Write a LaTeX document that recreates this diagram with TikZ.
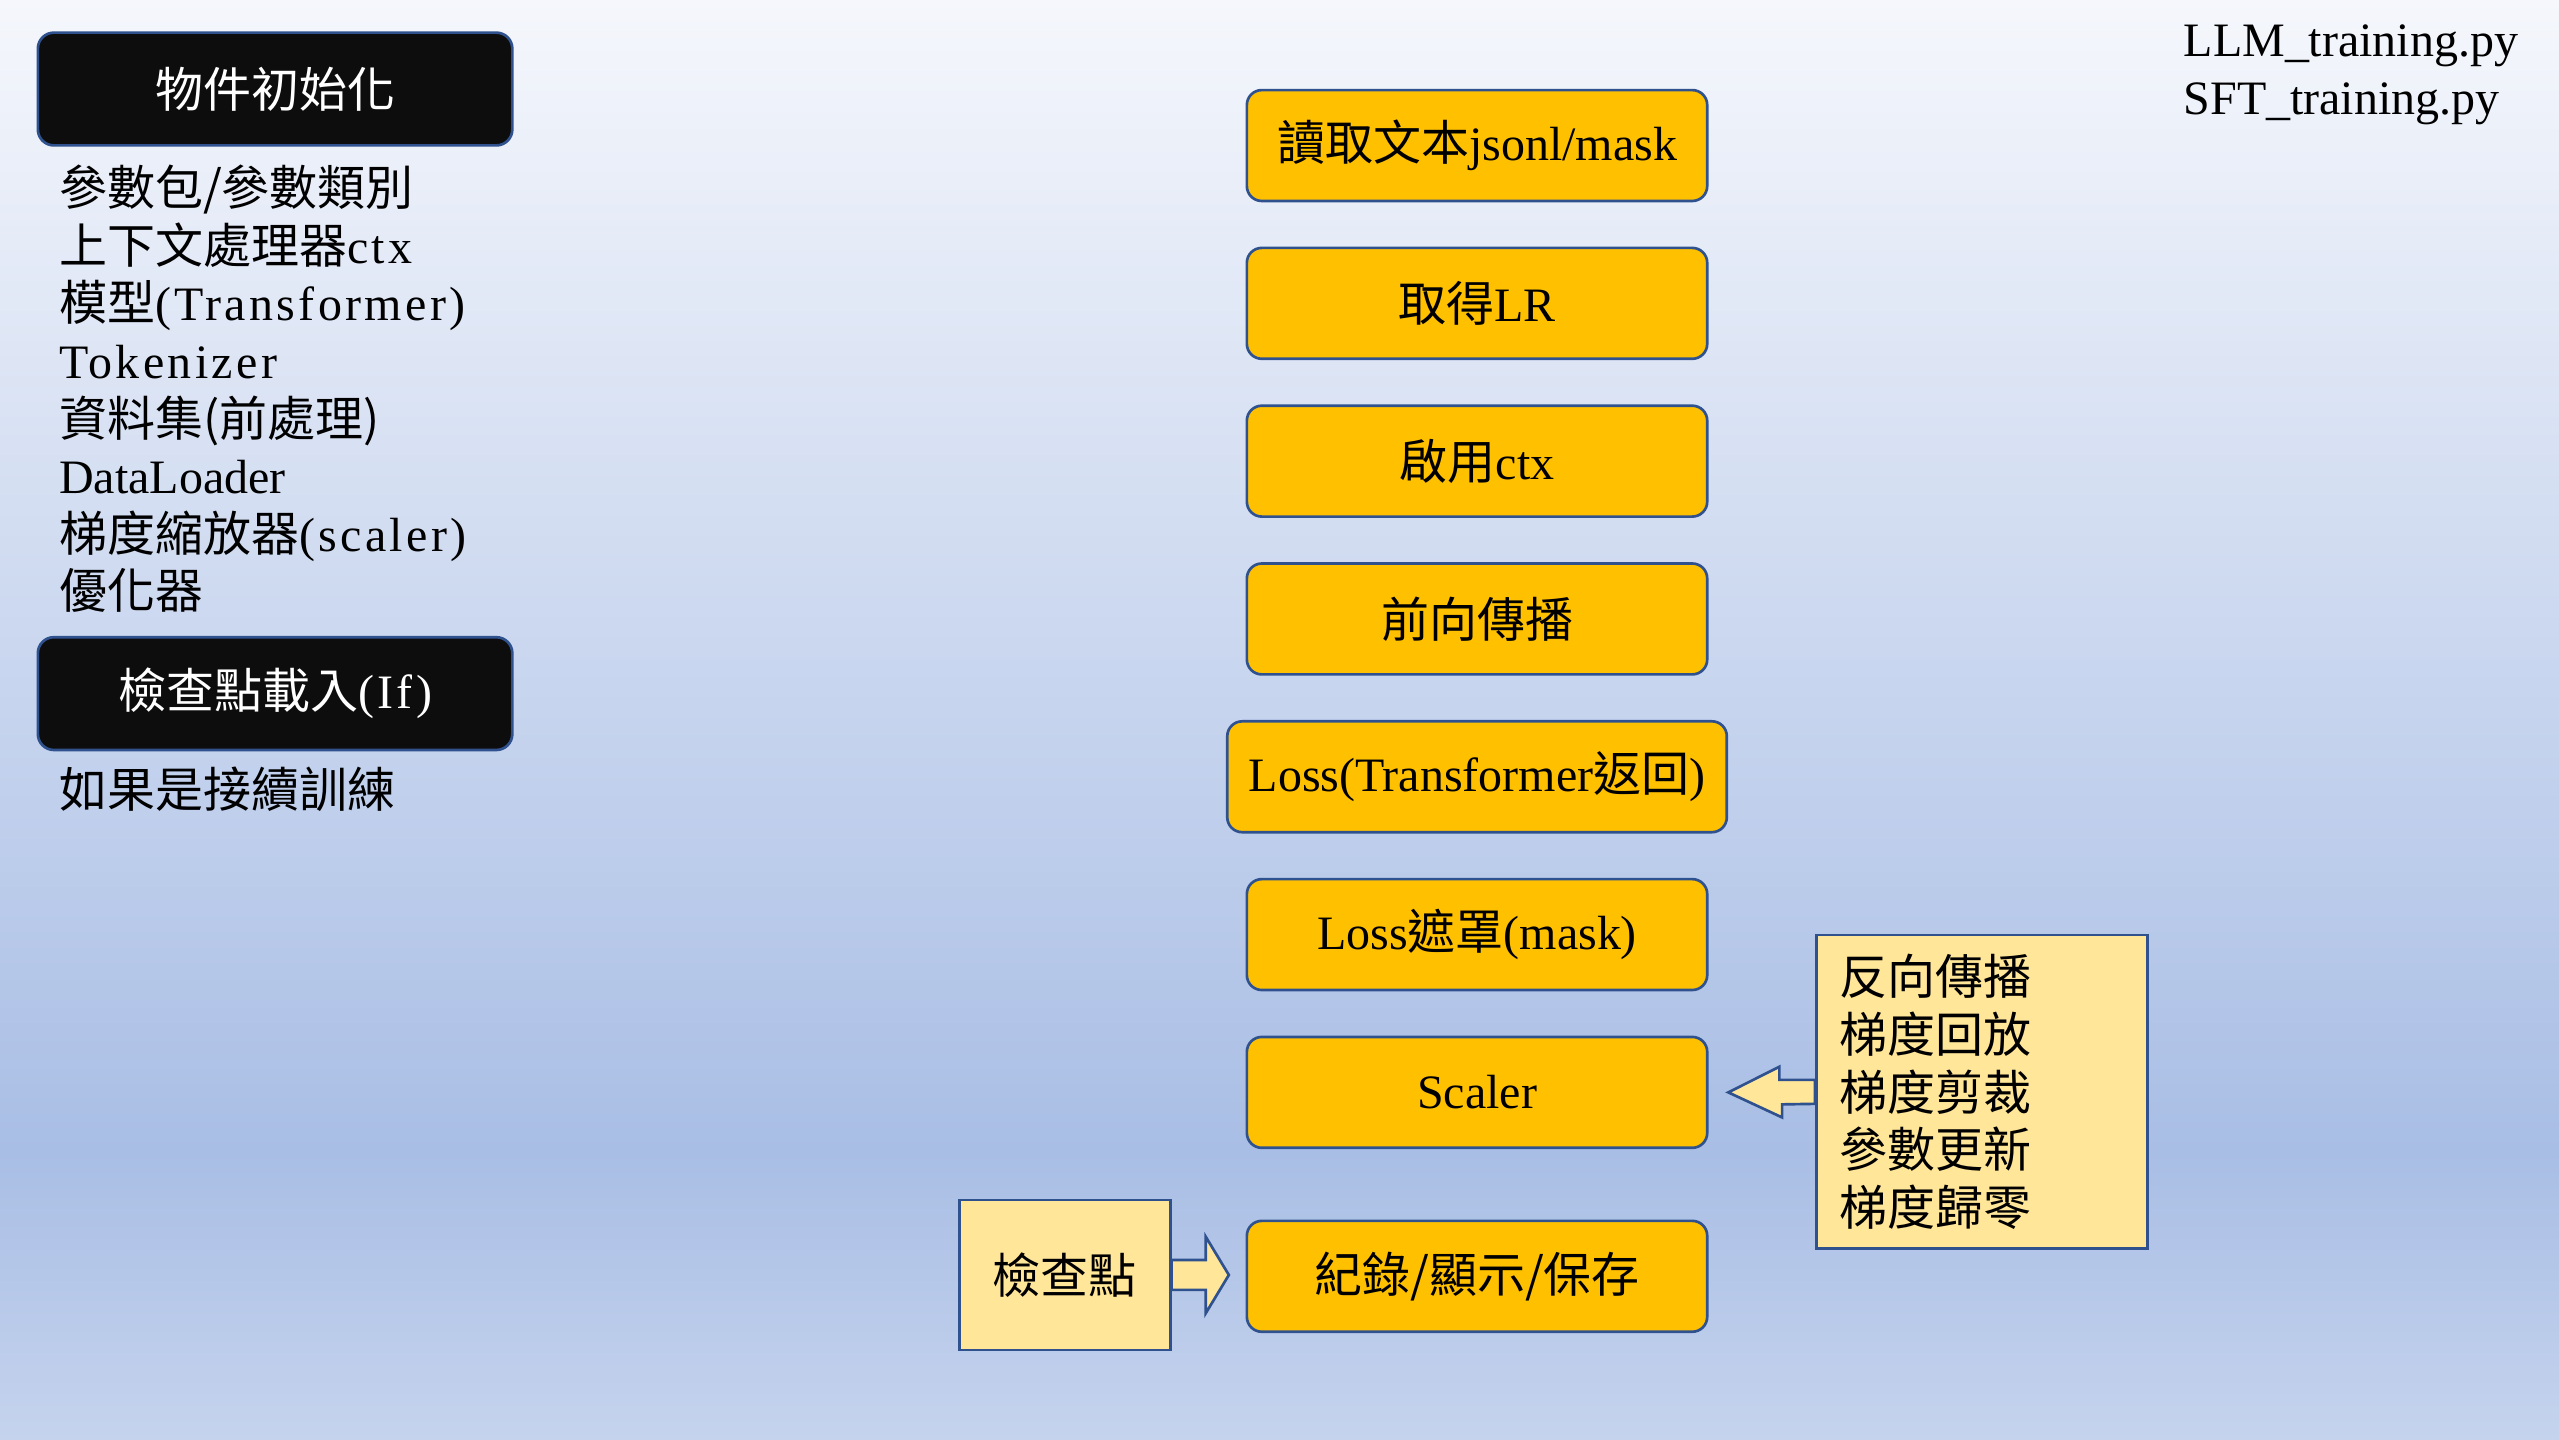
\documentclass[tikz,border=0pt]{standalone}
\usepackage{fontspec}
\setmainfont{Liberation Serif}
\newfontfamily\cjk{Noto Sans CJK TC}
\newfontfamily\wide[LetterSpace=7]{Liberation Serif}
\usetikzlibrary{positioning}

\definecolor{boxline}{HTML}{2F528F}
\definecolor{gold}{HTML}{FFC000}
\definecolor{paleyellow}{HTML}{FFE699}
\definecolor{nearblack}{HTML}{0D0D0D}
\definecolor{bgtop}{HTML}{F5F7FC}
\definecolor{bgmid}{HTML}{A9BEE5}
\definecolor{bgbot}{HTML}{C5D3ED}

\begin{document}
\begin{tikzpicture}[x=1pt,y=-1pt,
    every node/.style={font=\fontsize{18pt}{21.6pt}\selectfont},
    darkbox/.style={draw=boxline, line width=1pt, fill=nearblack, rounded corners=6pt,
        minimum width=178pt, minimum height=42.3pt, inner sep=0pt, text=white},
    stepbox/.style={draw=boxline, line width=1pt, fill=gold, rounded corners=5.6pt,
        minimum width=172.7pt, minimum height=41.6pt, inner sep=0pt},
    notebox/.style={draw=boxline, line width=1pt, fill=paleyellow},
    listline/.style={anchor=base west, inner sep=0pt},
    blockarrow/.style={draw=boxline, line width=1pt, fill=paleyellow, line join=miter}]

    % background
    \useasboundingbox (0,0) rectangle (960,540);
    \shade[top color=bgtop, bottom color=bgmid] (0,0) rectangle (960,432);
    \shade[top color=bgmid, bottom color=bgbot] (0,432) rectangle (960,540);

    % left column
    \node[darkbox] (init) at (103.2,33.4) {\cjk 物件初始化};
    \foreach \t [count=\i] in {{\cjk 參數包/參數類別}, {\cjk 上下文處理器}{\wide ctx},
        {\cjk 模型}{\wide (Transformer)}, {\wide Tokenizer}, {\cjk 資料集(前處理)}, DataLoader,
        {\cjk 梯度縮放器}{\wide (scaler)}, {\cjk 優化器}}
        \node[listline] (l\i) at (22,{77.2+21.6*(\i-1)}) {\t};
    \node[darkbox] (chkload) at (103.2,260.2) {{\cjk 檢查點載入}{\wide (If)}};
    \node[listline] (resume) at (22,303.1) {\cjk 如果是接續訓練};

    % file names
    \node[listline] (llm) at (819,21.3) {LLM\_training.py};
    \node[listline] (sft) at (819,42.8) {SFT\_training.py};

    % training steps
    \node[stepbox] (read) at (554.1,54.6) {{\cjk 讀取文本}jsonl/mask};
    \node[stepbox, below=16.6pt of read] (getlr) {{\cjk 取得}LR};
    \node[stepbox, below=16.6pt of getlr] (usectx) {{\cjk 啟用}ctx};
    \node[stepbox, below=16.6pt of usectx] (fwd) {\cjk 前向傳播};
    \node[stepbox, minimum width=187.4pt, below=16.6pt of fwd] (loss) {Loss(Transformer{\cjk 返回})};
    \node[stepbox, below=16.6pt of loss] (lossmask) {Loss{\cjk 遮罩}(mask)};
    \node[stepbox, below=16.6pt of lossmask] (scaler) {Scaler};
    \node[stepbox, below=26.4pt of scaler] (log) {\cjk 紀錄/顯示/保存};

    % side notes
    \node[notebox, align=left, text width=107.1pt, inner xsep=8.6pt, minimum height=117.6pt]
        (upd) at (743.55,409.6) {\cjk 反向傳播\\ 梯度回放\\ 梯度剪裁\\ 參數更新\\ 梯度歸零};
    \node[notebox, minimum width=79pt, minimum height=56.2pt, inner sep=0pt]
        (chk) at (399.5,478.3) {\cjk 檢查點};

    % block arrows
    \filldraw[blockarrow] ([yshift=4.5pt]upd.west) -- ++(-13.4,0) -- ++(0,-4.9)
        -- ([xshift=7.4pt]scaler.east) -- ++(20.2,9.4) -- ++(0,-4.9)
        -- ([yshift=-4.5pt]upd.west) -- cycle;
    \filldraw[blockarrow] ([yshift=5.6pt]chk.east) -- ++(12.8,0) -- ++(0,-8.8)
        -- ([xshift=21.5pt]chk.east) -- ++(-8.7,14.4) -- ++(0,-8.8)
        -- ([yshift=-5.6pt]chk.east) -- cycle;
\end{tikzpicture}
\end{document}
